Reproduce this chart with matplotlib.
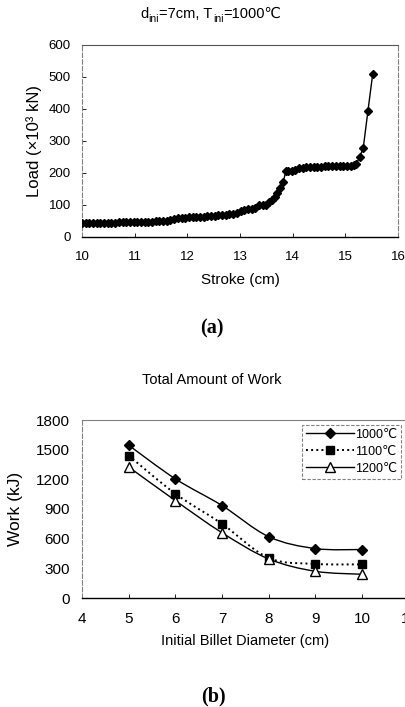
import matplotlib
matplotlib.use('Agg')
import matplotlib.pyplot as plt
from matplotlib.path import Path
from matplotlib.patches import PathPatch
from matplotlib.lines import Line2D
import numpy as np

plt.rcParams['font.family'] = ['Liberation Sans', 'DejaVu Sans']

# ---------------- data: panel (a) ----------------
stroke = [10.00, 10.07, 10.14, 10.21, 10.28, 10.35, 10.42, 10.49, 10.56, 10.63,
          10.70, 10.77, 10.84, 10.91, 10.98, 11.05, 11.12, 11.19, 11.26, 11.33,
          11.40, 11.47, 11.54, 11.61, 11.68, 11.75, 11.82, 11.89, 11.96, 12.03,
          12.10, 12.17, 12.24, 12.31, 12.38, 12.45, 12.52, 12.59, 12.66, 12.73,
          12.80, 12.87, 12.94, 13.01, 13.08, 13.15, 13.22, 13.29, 13.36, 13.43,
          13.50, 13.56, 13.61, 13.66, 13.71, 13.76, 13.82, 13.87, 13.92, 13.98,
          14.05, 14.12, 14.19, 14.26, 14.33, 14.40, 14.47, 14.54, 14.61, 14.68,
          14.75, 14.82, 14.89, 14.96, 15.03, 15.10, 15.17, 15.21, 15.27, 15.34,
          15.43, 15.52]
load = [45, 44, 44, 44, 45, 44, 44, 45, 44, 45,
        46, 47, 47, 48, 48, 48, 48, 48, 48, 48,
        49, 49, 49, 50, 53, 57, 58, 60, 60, 61,
        62, 63, 64, 64, 66, 67, 67, 68, 68, 70,
        71, 72, 75, 80, 83, 86, 88, 92, 99, 100,
        100, 108, 116, 126, 136, 153, 172, 205, 206, 207,
        210, 215, 217, 218, 218, 219, 220, 220, 221, 221,
        222, 222, 222, 223, 223, 223, 224, 228, 250, 278,
        395, 510]

# ---------------- data: panel (b) ----------------
diameter = [5, 6, 7, 8, 9, 10]
work_1000 = [1545, 1205, 935, 620, 500, 490]
work_1100 = [1440, 1055, 750, 405, 345, 340]
work_1200 = [1325, 985, 660, 395, 270, 240]
series_labels = ['1000℃', '1100℃', '1200℃']

W, H = 406, 707
fig = plt.figure(figsize=(W / 100, H / 100), dpi=100)


def fx(px):
    return px / W


def fy(py):
    return 1 - py / H


GRAY = '#808080'

# ---------------- panel (a) ----------------
ax1 = fig.add_axes([fx(82), fy(237), (398 - 82) / W, (237 - 45) / H])
ax1.plot(stroke, load, color='k', lw=1.0, marker='D', ms=3.8, zorder=3)
ax1.set_xlim(10, 16)
ax1.set_ylim(0, 600)
ax1.set_xticks(range(10, 17))
ax1.set_yticks(range(0, 601, 100))
ax1.tick_params(axis='x', direction='in', length=3, width=0.6, pad=10, labelsize=9.5)
ax1.tick_params(axis='y', direction='in', length=3, width=0.6, pad=8, labelsize=9.5)
for s in ['left', 'right']:
    ax1.spines[s].set_color(GRAY)
    ax1.spines[s].set_linestyle((0, (4, 2)))
    ax1.spines[s].set_linewidth(0.8)
ax1.spines['top'].set_color('#555555')
ax1.spines['top'].set_linewidth(0.8)
ax1.spines['bottom'].set_color('k')
ax1.spines['bottom'].set_linewidth(1.0)
ax1.set_xlabel('Stroke (cm)', fontsize=11, labelpad=7)
ax1.set_ylabel('Load (×10³ kN)', fontsize=12, labelpad=5)

# title with subscripts: d_ini=7cm, T_ini=1000℃
pieces = [('d', False), ('ini', True), ('=7cm, T', False), ('ini', True), ('=1000℃', False)]
base = fig.text(fx(140), fy(21), pieces[0][0], fontsize=10.5, ha='left', va='bottom')
prev = base
for txt, sub in pieces[1:]:
    if sub:
        prev = ax1.annotate(txt, xy=(1, 0), xycoords=(prev, base), xytext=(0.2, -2.4),
                            textcoords='offset points', fontsize=7.5, ha='left', va='bottom',
                            annotation_clip=False)
    else:
        prev = ax1.annotate(txt, xy=(1, 0), xycoords=(prev, base), xytext=(0.2, 0),
                            textcoords='offset points', fontsize=10.5, ha='left', va='bottom',
                            annotation_clip=False)

fig.text(fx(212), fy(328), '(a)', fontsize=14.5, fontweight='bold',
         family=['Liberation Serif', 'DejaVu Serif'], ha='center', va='center')

# ---------------- panel (b) ----------------
ax2 = fig.add_axes([fx(82), fy(598), (408.7 - 82) / W, (598 - 420) / H])


def smooth_path(x, y):
    pts = np.column_stack([x, y]).astype(float)
    n = len(pts)
    verts = [pts[0]]
    codes = [Path.MOVETO]
    for i in range(n - 1):
        p0 = pts[i - 1] if i > 0 else pts[i]
        p1 = pts[i]
        p2 = pts[i + 1]
        p3 = pts[i + 2] if i + 2 < n else pts[i + 1]
        c1 = p1 + (p2 - p0) / 6.0
        c2 = p2 - (p3 - p1) / 6.0
        verts += [c1, c2, p2]
        codes += [Path.CURVE4] * 3
    return Path(verts, codes)


styles = [
    (work_1000, '-', 'D', 5.5, 'k', 1.0),
    (work_1100, ':', 's', 6.0, 'k', 1.4),
    (work_1200, '-', '^', 7.0, 'white', 1.0),
]
handles = []
for (vals, ls, mk, ms, mfc, lw), lab in zip(styles, series_labels):
    ax2.add_patch(PathPatch(smooth_path(diameter, vals), facecolor='none',
                            edgecolor='k', lw=lw, ls=ls, zorder=2))
    ax2.plot(diameter, vals, ls='none', marker=mk, ms=ms, mfc=mfc, mec='k',
             mew=1.0, zorder=3)
    handles.append(Line2D([], [], color='k', ls=ls, lw=lw, marker=mk, ms=ms,
                          mfc=mfc, mec='k', mew=1.0, label=lab))

ax2.set_xlim(4, 11)
ax2.set_ylim(0, 1800)
ax2.set_xticks(range(4, 12))
ax2.set_yticks(range(0, 1801, 300))
ax2.tick_params(axis='x', direction='in', length=3, width=0.6, pad=10, labelsize=11)
ax2.tick_params(axis='y', direction='in', length=0, pad=9, labelsize=11)
ax2.spines['left'].set_color(GRAY)
ax2.spines['left'].set_linestyle((0, (4, 2)))
ax2.spines['left'].set_linewidth(0.8)
ax2.spines['top'].set_color(GRAY)
ax2.spines['top'].set_linestyle((0, (1, 1)))
ax2.spines['top'].set_linewidth(0.8)
ax2.spines['right'].set_visible(False)
ax2.spines['bottom'].set_color('k')
ax2.spines['bottom'].set_linewidth(1.0)
ax2.set_xlabel('Initial Billet Diameter (cm)', fontsize=10.5, labelpad=6)
ax2.set_ylabel('Work (kJ)', fontsize=12.5, labelpad=9)

leg = ax2.legend(handles=handles, loc='upper left',
                 bbox_to_anchor=(fx(302), fy(425)), bbox_transform=fig.transFigure,
                 borderaxespad=0, frameon=True, fancybox=False, fontsize=9,
                 handlelength=3.9, handletextpad=0.05, labelspacing=0.4,
                 borderpad=0.3, framealpha=1)
leg.get_frame().set_edgecolor(GRAY)
leg.get_frame().set_linewidth(0.8)
leg.get_frame().set_linestyle((0, (3, 1.5)))

fig.text(fx(212), fy(380), 'Total Amount of Work', fontsize=10.5, ha='center', va='center')
fig.text(fx(213), fy(696), '(b)', fontsize=14.5, fontweight='bold',
         family=['Liberation Serif', 'DejaVu Serif'], ha='center', va='center')

fig.savefig('out.png', dpi=100)
